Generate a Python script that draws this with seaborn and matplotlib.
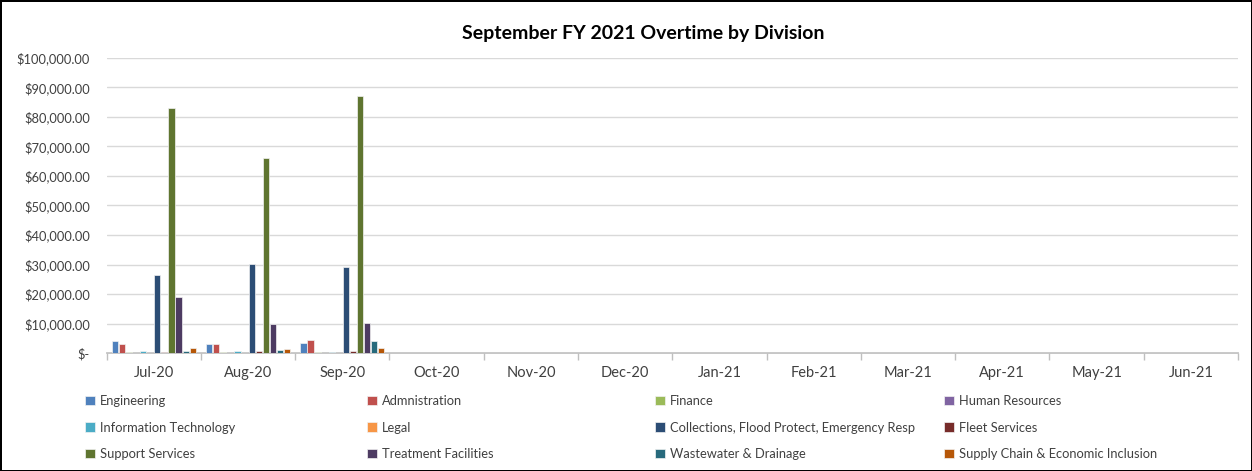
"""
September FY 2021 overtime by division - grouped bar chart
"""
import pandas as pd
import seaborn as sns
import matplotlib
matplotlib.use('Agg')
import matplotlib.pyplot as plt
from matplotlib.ticker import FuncFormatter

# ==================== data ====================
months = ['Jul-20', 'Aug-20', 'Sep-20', 'Oct-20', 'Nov-20', 'Dec-20',
          'Jan-21', 'Feb-21', 'Mar-21', 'Apr-21', 'May-21', 'Jun-21']

divisions = ['Engineering', 'Admnistration', 'Finance', 'Human Resources',
             'Information Technology', 'Legal',
             'Collections, Flood Protect, Emergency Resp', 'Fleet Services',
             'Support Services', 'Treatment Facilities',
             'Wastewater & Drainage', 'Supply Chain & Economic Inclusion']

# overtime per division, Jul-20 / Aug-20 / Sep-20 (other months empty)
jul_20 = [4100, 3000, 500, 100, 800, 100, 26600, 400, 83200, 19000, 600, 1800]
aug_20 = [3000, 3100, 400, 100, 600, 100, 30200, 700, 66000, 10000, 1000, 1500]
sep_20 = [3400, 4400, 300, 100, 500, 100, 29200, 600, 87200, 10300, 4100, 1800]

colors = ['#4F81BD', '#C0504D', '#9BBB59', '#8064A2', '#4BACC6', '#F79646',
          '#2C4D75', '#772C2A', '#5F7530', '#4D3B62', '#276A7C', '#B65708']

# ==================== table ====================
rows = []
for month, vals in zip(months[:3], [jul_20, aug_20, sep_20]):
    for div, v in zip(divisions, vals):
        rows.append({'month': month, 'division': div, 'amount': v})
df = pd.DataFrame(rows)

sns.set_theme(style='white')
plt.rcParams['font.family'] = ['Lato', 'DejaVu Sans']

fig = plt.figure(figsize=(12.52, 4.71), dpi=100)
fig.patch.set_edgecolor('black')
fig.patch.set_linewidth(2)
ax = fig.add_axes([0.0852, 0.2505, 0.9036, 0.6264])

sns.barplot(data=df, x='month', y='amount', hue='division',
            order=months, hue_order=divisions, palette=colors,
            width=0.9, gap=0.12, ax=ax, saturation=1,
            edgecolor='#f2f2f2', linewidth=0.5)

ax.set_ylim(0, 100000)
ax.set_xlim(-0.5, len(months) - 0.5)
ax.set_yticks(range(0, 100001, 10000))
ax.yaxis.set_major_formatter(FuncFormatter(
    lambda v, p: '$-' if v == 0 else f'${v:,.2f}'))
ax.grid(True, axis='y', color='#d9d9d9', linewidth=1)
ax.set_axisbelow(True)
ax.set_xlabel('')
ax.set_ylabel('')
for s in ['top', 'right', 'left']:
    ax.spines[s].set_visible(False)
ax.spines['bottom'].set_color('#bfbfbf')
ax.spines['bottom'].set_zorder(0.5)

# tick marks at the category boundaries, labels at the centers
ax.set_xticks([i + 0.5 for i in range(-1, len(months))], minor=True)
ax.tick_params(axis='x', which='minor', length=5, color='#bfbfbf', bottom=True)
ax.tick_params(axis='x', which='major', length=0, pad=9, labelsize=10.5,
               labelcolor='#404040')
ax.tick_params(axis='y', length=0, pad=12, labelsize=9.3, labelcolor='#404040')

ax.set_title('September FY 2021 Overtime by Division', fontsize=14,
             fontweight='bold', color='black', pad=14, x=0.474)

# legend: 4 evenly spaced columns of 3 rows
handles, labels = ax.get_legend_handles_labels()
ax.get_legend().remove()
col_x = [0.064, 0.289, 0.519, 0.750]
for c in range(4):
    idx = [c + 4 * r for r in range(3)]
    fig.legend([handles[i] for i in idx], [labels[i] for i in idx],
               loc='upper left', bbox_to_anchor=(col_x[c], 0.172),
               frameon=False, fontsize=9.3, handlelength=0.75,
               handleheight=0.75, handletextpad=0.4, labelspacing=1.12,
               borderaxespad=0, labelcolor='#404040')

fig.savefig('out.png', dpi=100)
plt.close('all')
